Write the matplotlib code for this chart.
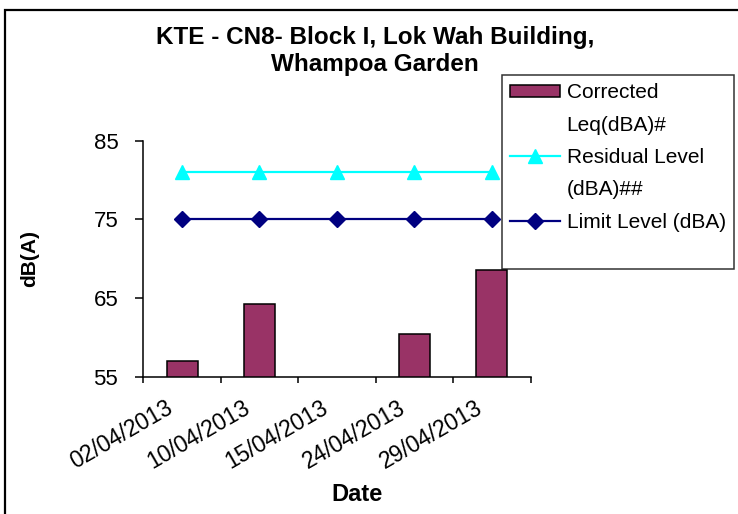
import matplotlib
matplotlib.use('Agg')
import matplotlib.pyplot as plt
from matplotlib.patches import Rectangle
from matplotlib.lines import Line2D
from matplotlib.transforms import ScaledTranslation
import numpy as np

plt.rcParams['font.family'] = ['Liberation Sans', 'DejaVu Sans']

# data
dates = ['02/04/2013', '10/04/2013', '15/04/2013', '24/04/2013', '29/04/2013']
corrected_leq = [57.0, 64.3, np.nan, 60.4, 68.6]
residual_level = [81.0, 81.0, 81.0, 81.0, 81.0]
limit_level = [75, 75, 75, 75, 75]

fig = plt.figure(figsize=(7.38, 5.14), dpi=100)
W, H = 738., 514.

# outer chart border (runs off the right and bottom)
fig.patches.append(Rectangle((5 / W, -0.2), 1.2, 1.2 - 10 / H,
                             transform=fig.transFigure, fill=False,
                             edgecolor='black', linewidth=1.6))

ax = fig.add_axes([143.3 / W, 1 - 376.7 / H, 387.2 / W, 236 / H])
x = np.arange(len(dates))

bars = ax.bar(x, corrected_leq, width=0.4, color='#993366',
              edgecolor='black', linewidth=1.1, zorder=2)
res_line, = ax.plot(x, residual_level, color='#00FFFF', lw=1.6,
                    marker='^', markersize=10, zorder=3)
lim_line, = ax.plot(x, limit_level, color='#000080', lw=1.6,
                    marker='D', markersize=8, zorder=3)

ax.set_ylim(55, 85)
ax.set_xlim(-0.5, len(dates) - 0.5)
ax.set_yticks([55, 65, 75, 85])
ax.tick_params(axis='y', direction='out', length=6, width=1.1,
               labelsize=16, pad=12)

ax.set_xticks(x)
ax.set_xticklabels(dates, rotation=30, ha='right', va='center',
                   rotation_mode='anchor', fontsize=16.5)
ax.tick_params(axis='x', which='major', length=0, pad=21)
ax.set_xticks(np.arange(-0.5, len(dates)), minor=True)
ax.tick_params(axis='x', which='minor', direction='out', length=4.5, width=1.1)
for lab in ax.get_xticklabels():
    lab.set_transform(lab.get_transform() +
                      ScaledTranslation(-11 / 100, 0, fig.dpi_scale_trans))

for s in ['top', 'right']:
    ax.spines[s].set_visible(False)
for s in ['left', 'bottom']:
    ax.spines[s].set_linewidth(1.1)

ax.set_ylabel('dB(A)', fontsize=15, fontweight='bold')
ax.yaxis.set_label_coords(-0.27, 0.5)
ax.set_xlabel('Date', fontsize=17, fontweight='bold', va='top')
ax.xaxis.set_label_coords(0.552, -0.45)

fig.text(0.508, 1 - 26 / H,
         'KTE - CN8- Block I, Lok Wah Building,\nWhampoa Garden',
         ha='center', va='top', multialignment='center',
         fontsize=17.5, fontweight='bold', linespacing=1.2)

blank = Line2D([], [], linestyle='none')
leg = fig.legend([bars, blank, res_line, blank, lim_line, blank],
                 ['Corrected', 'Leq(dBA)#', 'Residual Level', '(dBA)##',
                  'Limit Level (dBA)', ' '],
                 loc='upper left', bbox_to_anchor=(502 / W, 1 - 75 / H),
                 fontsize=15, frameon=True, fancybox=False, shadow=False,
                 borderpad=0.4, labelspacing=0.64, handlelength=2.4,
                 handleheight=0.55, handletextpad=0.3, borderaxespad=0)
leg.get_texts()[-1].set_fontsize(6)
leg.get_frame().set_edgecolor('black')
leg.get_frame().set_linewidth(1.1)

plt.savefig('out.png', dpi=100)
